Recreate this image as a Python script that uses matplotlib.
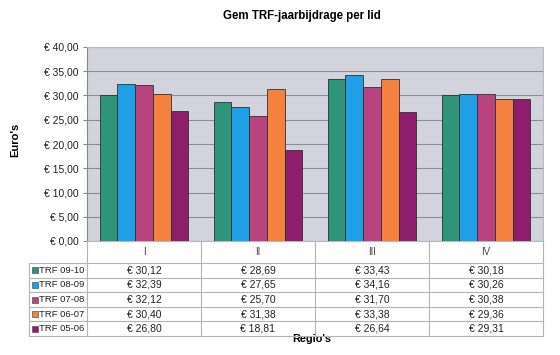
import matplotlib.pyplot as plt
from matplotlib.patches import Rectangle

plt.rcParams['font.family'] = ['Liberation Sans', 'DejaVu Sans']

# Data
regions = ["I", "II", "III", "IV"]
series = ["TRF 09-10", "TRF 08-09", "TRF 07-08", "TRF 06-07", "TRF 05-06"]
trf_0910 = [30.12, 28.69, 33.43, 30.18]
trf_0809 = [32.39, 27.65, 34.16, 30.26]
trf_0708 = [32.12, 25.70, 31.70, 30.38]
trf_0607 = [30.40, 31.38, 33.38, 29.36]
trf_0506 = [26.80, 18.81, 26.64, 29.31]
values = [trf_0910, trf_0809, trf_0708, trf_0607, trf_0506]
colors = ["#2E957A", "#1FA0E6", "#B8437F", "#F5813F", "#8E1D6C"]

def euro(v):
    return "€ " + f"{v:.2f}".replace(".", ",")

W, H = 560, 355
fig = plt.figure(figsize=(W / 100, H / 100), dpi=100)

# plot area in pixels
px_l, px_r, px_t, px_b = 87, 543, 47, 241
ax = fig.add_axes([px_l / W, 1 - px_b / H, (px_r - px_l) / W, (px_b - px_t) / H])
ax.set_facecolor("#D3D3DD")

n = len(series)
bw = 0.155
for i, (name, vals, c) in enumerate(zip(series, values, colors)):
    xs = [k + (i - (n - 1) / 2) * bw for k in range(len(regions))]
    ax.bar(xs, vals, width=bw, color=c, edgecolor="#303030", linewidth=0.6, zorder=3)

ax.set_xlim(-0.5, len(regions) - 0.5)
ax.set_ylim(0, 40)
ax.set_yticks(range(0, 41, 5))
ax.set_yticklabels([euro(v) for v in range(0, 41, 5)], fontsize=7.5, color="#222222")
ax.yaxis.grid(True, color="#8C8C94", linewidth=0.8, zorder=0)
ax.set_xticks([])
ax.tick_params(axis="y", length=3, color="#888888", pad=3)
for s in ["top", "right", "bottom"]:
    ax.spines[s].set_color("#B8B8C0")
    ax.spines[s].set_linewidth(0.8)
ax.spines["left"].set_color("#888888")

# table overlay in pixel coords
tab = fig.add_axes([0, 0, 1, 1], zorder=5)
tab.set_xlim(0, W)
tab.set_ylim(H, 0)
tab.axis("off")

leg_l = 29
row_top = 263
row_h = 14.6
col_w = (px_r - px_l) / len(regions)
line_c = "#B4B4B8"

# header row
for k, r in enumerate(regions):
    cx = px_l + (k + 0.5) * col_w
    tab.text(cx, (px_b + row_top) / 2, r, ha="center", va="center", fontsize=7, color="#444444")
for k in range(len(regions) + 1):
    x = px_l + k * col_w
    tab.plot([x, x], [px_b, row_top + n * row_h], color=line_c, lw=0.8)
tab.plot([leg_l, leg_l], [row_top, row_top + n * row_h], color=line_c, lw=0.8)
for j in range(n + 1):
    y = row_top + j * row_h
    tab.plot([leg_l, px_r], [y, y], color=line_c, lw=0.8)

for j, (name, vals, c) in enumerate(zip(series, values, colors)):
    cy = row_top + (j + 0.5) * row_h
    tab.add_patch(Rectangle((leg_l + 3, cy - 3), 6, 6, facecolor=c, edgecolor="#555555", lw=0.5))
    tab.text(leg_l + 10, cy, name, ha="left", va="center", fontsize=6.8, color="#222222")
    for k, v in enumerate(vals):
        cx = px_l + (k + 0.5) * col_w
        tab.text(cx, cy, euro(v), ha="center", va="center", fontsize=7.5, color="#222222")

fig.text(302 / W, 1 - 16 / H, "Gem TRF-jaarbijdrage per lid", ha="center", va="center",
         fontsize=8.3, fontweight="bold")
fig.text(15 / W, 1 - 140 / H, "Euro's", ha="center", va="center", rotation=90,
         fontsize=8, fontweight="bold")
fig.text(312 / W, 1 - 339 / H, "Regio's", ha="center", va="center",
         fontsize=7.8, fontweight="bold")

fig.savefig("out.png", dpi=100)
